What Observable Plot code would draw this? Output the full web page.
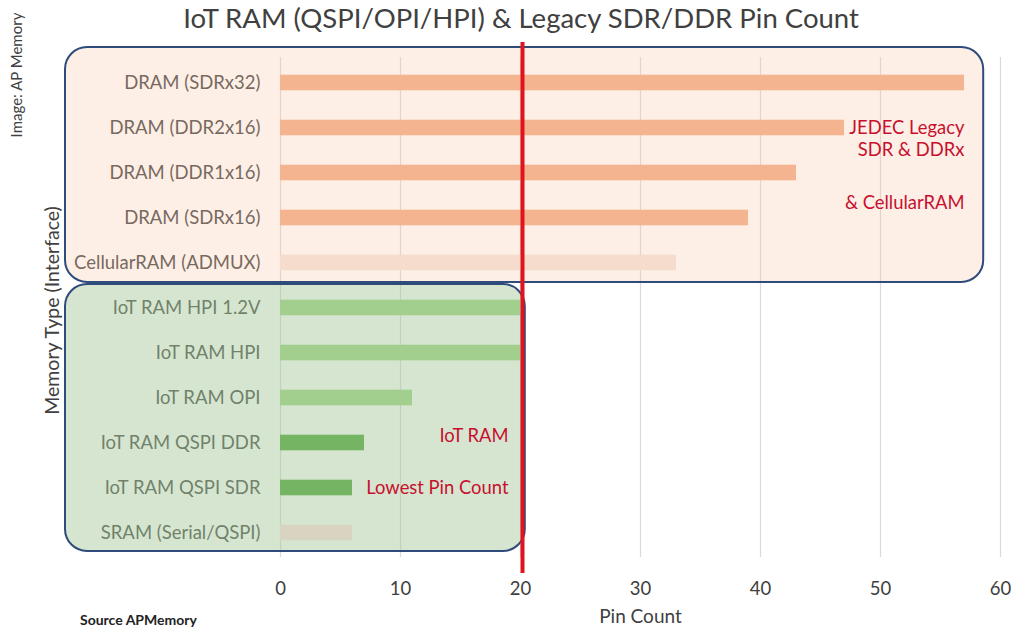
<!DOCTYPE html>
<html>
<head>
<meta charset="utf-8">
<script src="https://cdn.jsdelivr.net/npm/d3@7"></script>
<script src="https://cdn.jsdelivr.net/npm/@observablehq/plot@0.6"></script>
<style>
  body { margin: 0; background: #fff; }
  #wrap { position: relative; width: 1011px; height: 630px; font-family: Lato, "Open Sans", sans-serif; color: #404040; overflow: hidden; }
  #chart { position: absolute; left: 0; top: 0; }
  .title { position: absolute; top: 1px; left: 0; width: 1042px; text-align: center; font-size: 27.5px; color: #404040; }
  .credit { position: absolute; left: 16px; top: 75px; transform: translate(-50%, -50%) rotate(-90deg); white-space: nowrap; font-size: 15px; color: #404040; }
  .source { position: absolute; left: 80px; top: 611px; font-size: 14px; font-weight: bold; color: #222; }
</style>
</head>
<body>
<div id="wrap">
  <div id="chart"></div>
  <div class="title">IoT RAM (QSPI/OPI/HPI) &amp; Legacy SDR/DDR Pin Count</div>
  <div class="credit">Image: AP Memory</div>
  <div class="source">Source APMemory</div>
</div>
<script>
// ---- data ----
const categories = [
  "DRAM (SDRx32)", "DRAM (DDR2x16)", "DRAM (DDR1x16)", "DRAM (SDRx16)",
  "CellularRAM (ADMUX)", "IoT RAM HPI 1.2V", "IoT RAM HPI", "IoT RAM OPI",
  "IoT RAM QSPI DDR", "IoT RAM QSPI SDR", "SRAM (Serial/QSPI)"
];
const pinCounts = [57, 47, 43, 39, 33, 20, 20, 11, 7, 6, 6];
const barColors = ["#f4b48f", "#f4b48f", "#f4b48f", "#f4b48f", "#f6dccc",
                   "#a2cf8e", "#a2cf8e", "#a2cf8e", "#74b462", "#74b462", "#d9d3c1"];
const xTicks = [0, 10, 20, 30, 40, 50, 60];
const groupFirst = ["DRAM (SDRx32)", "IoT RAM HPI 1.2V"];
const groupLast = ["CellularRAM (ADMUX)", "SRAM (Serial/QSPI)"];
const annTexts = ["JEDEC Legacy", "SDR & DDRx", "& CellularRAM", "IoT RAM", "Lowest Pin Count"];
const annX = [57, 57, 57, 19, 19];
const annCat = ["DRAM (DDR2x16)", "DRAM (DDR2x16)", "DRAM (SDRx16)", "IoT RAM QSPI DDR", "IoT RAM QSPI SDR"];
const limitPins = 20;

const rows = categories.map((c, i) => ({cat: c, pins: pinCounts[i], color: barColors[i]}));
const anns = annTexts.map((t, i) => ({text: t, x: annX[i], cat: annCat[i]}));
const annDy = [0, 22, -15, -7, 0];

// group boxes (rounded annotation frames)
const boxStyle = [
  {fill: "#f8cbad", opacity: 0.3, top: -13, bottom: -3, right: 58.6},
  {fill: "#a8c89a", opacity: 0.48, top: -1, bottom: -4, right: 20.4}
];
function groupBoxes(index, scales) {
  const {x, y} = scales;
  const bw = typeof y.bandwidth === "function" ? y.bandwidth() : (y(categories[1]) - y(categories[0]));
  const g = d3.create("svg:g");
  groupFirst.forEach((f, i) => {
    const s = boxStyle[i];
    const y0 = y(f) + s.top;
    const y1 = y(groupLast[i]) + bw + s.bottom;
    const x0 = 65;
    const x1 = x(s.right);
    g.append("rect")
      .attr("x", x0).attr("y", y0)
      .attr("width", x1 - x0).attr("height", y1 - y0)
      .attr("rx", 22).attr("ry", 22)
      .attr("fill", s.fill).attr("fill-opacity", s.opacity)
      .attr("stroke", "#2f4b7c").attr("stroke-width", 2);
  });
  return g.node();
}

const barInset = 14.7;
const marks = [
  Plot.ruleX(xTicks, {stroke: "#d9d9d9", strokeWidth: 1.2}),
  groupBoxes,
  Plot.barX(rows, {y: "cat", x: "pins", fill: "color", insetTop: barInset, insetBottom: barInset}),
  ...anns.map((a, i) => Plot.text([a], {x: "x", y: "cat", text: "text", textAnchor: "end", fill: "#c8102e", fontSize: 18.4, dy: annDy[i]})),
  Plot.ruleX([limitPins], {stroke: "#e0141e", strokeWidth: 4, insetTop: -15, insetBottom: -16, dx: 2}),
  Plot.text(["Pin Count"], {frameAnchor: "bottom", dy: 65, fontSize: 19, fill: "#404040"}),
  Plot.text(["Memory Type (Interface)"], {frameAnchor: "left", rotate: -90, textAnchor: "middle", dx: -228, dy: 3, fontSize: 19.5, fill: "#404040"})
];

const chart = Plot.plot({
  width: 1011,
  height: 630,
  marginLeft: 280,
  marginRight: 11,
  marginTop: 57,
  marginBottom: 73,
  style: {fontFamily: "Lato, 'Open Sans', sans-serif", fontSize: "18.5px", color: "#404040", background: "transparent", overflow: "visible"},
  x: {domain: [0, 60], ticks: xTicks, tickSize: 0, tickPadding: 24, label: null},
  y: {domain: categories, padding: 0, tickSize: 0, tickPadding: 20, label: null},
  color: {type: "identity"},
  marks
});
document.getElementById("chart").appendChild(chart);
</script>
</body>
</html>
